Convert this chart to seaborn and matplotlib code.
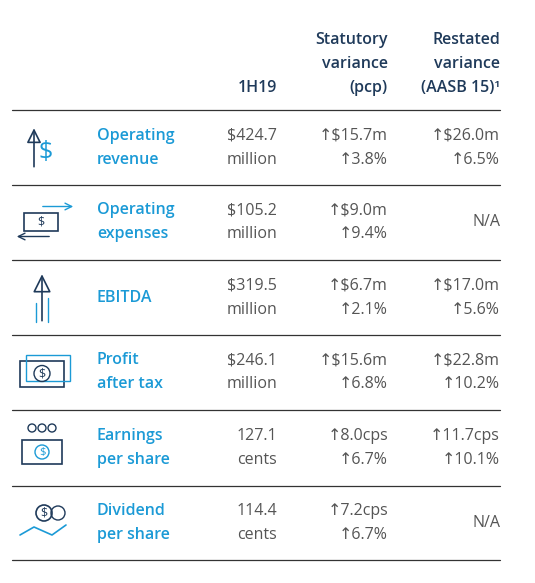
import matplotlib
matplotlib.use("Agg")
import matplotlib.pyplot as plt
import seaborn as sns
from matplotlib.patches import Rectangle, Circle

sns.set_theme(style="white")
plt.rcParams['font.family'] = ['Open Sans', 'DejaVu Sans']

labels = [("Operating", "revenue"), ("Operating", "expenses"), ("EBITDA", None),
          ("Profit", "after tax"), ("Earnings", "per share"), ("Dividend", "per share")]
values = [("$424.7", "million"), ("$105.2", "million"), ("$319.5", "million"),
          ("$246.1", "million"), ("127.1", "cents"), ("114.4", "cents")]
statutory = [("↑$15.7m", "↑3.8%"), ("↑$9.0m", "↑9.4%"), ("↑$6.7m", "↑2.1%"),
             ("↑$15.6m", "↑6.8%"), ("↑8.0cps", "↑6.7%"), ("↑7.2cps", "↑6.7%")]
restated = [("↑$26.0m", "↑6.5%"), ("N/A", None), ("↑$17.0m", "↑5.6%"),
            ("↑$22.8m", "↑10.2%"), ("↑11.7cps", "↑10.1%"), ("N/A", None)]

BLUE = "#1b9ad6"
DARK = "#1f3a5a"
GREY = "#555555"

fig = plt.figure(figsize=(5.35, 5.83), dpi=100)
ax = fig.add_axes([0, 0, 1, 1])
ax.set_xlim(0, 535)
ax.set_ylim(583, 0)
ax.axis("off")

fs = 11.5
W = "semibold"
ax.text(277, 88, "1H19", ha="right", va="center", fontsize=fs, color=DARK, weight=W)
for i, t in enumerate(["Statutory", "variance", "(pcp)"]):
    ax.text(388, 40 + 24 * i, t, ha="right", va="center", fontsize=fs, color=DARK, weight=W)
for i, t in enumerate(["Restated", "variance", "(AASB 15)¹"]):
    ax.text(500, 40 + 24 * i, t, ha="right", va="center", fontsize=fs, color=DARK, weight=W)

seps = [110, 185, 260, 335, 410, 486, 560]
for y in seps:
    ax.plot([12, 500], [y, y], color="#333333", lw=0.9)

for i in range(6):
    yc = (seps[i] + seps[i + 1]) / 2
    a, b = labels[i]
    if b is None:
        ax.text(97, yc, a, ha="left", va="center", fontsize=fs, color=BLUE, weight=W)
    else:
        ax.text(97, yc - 12, a, ha="left", va="center", fontsize=fs, color=BLUE, weight=W)
        ax.text(97, yc + 12, b, ha="left", va="center", fontsize=fs, color=BLUE, weight=W)
    ax.text(277, yc - 12, values[i][0], ha="right", va="center", fontsize=fs, color=GREY)
    ax.text(277, yc + 12, values[i][1], ha="right", va="center", fontsize=fs, color=GREY)
    ax.text(388, yc - 12, statutory[i][0], ha="right", va="center", fontsize=fs, color=GREY)
    ax.text(388, yc + 12, statutory[i][1], ha="right", va="center", fontsize=fs, color=GREY)
    r = restated[i]
    if r[1] is None:
        ax.text(500, yc, r[0], ha="right", va="center", fontsize=fs, color=GREY)
    else:
        ax.text(500, yc - 12, r[0], ha="right", va="center", fontsize=fs, color=GREY)
        ax.text(500, yc + 12, r[1], ha="right", va="center", fontsize=fs, color=GREY)

def icon(i):
    yc = (seps[i] + seps[i + 1]) / 2
    x = 42
    if i == 0:
        ax.annotate("", xy=(x - 8, yc - 22), xytext=(x - 8, yc + 22),
                    arrowprops=dict(arrowstyle="-|>", color=DARK, lw=1.2, fill=False, mutation_scale=22))
        ax.text(x + 4, yc + 5, "$", fontsize=18, color=BLUE, ha="center", va="center")
    elif i == 1:
        ax.add_patch(Rectangle((x - 18, yc - 10), 34, 18, fill=False, ec=DARK, lw=1.2))
        ax.text(x - 1, yc - 1, "$", fontsize=9, color=DARK, ha="center", va="center")
        ax.annotate("", xy=(x + 34, yc - 16), xytext=(x - 2, yc - 16),
                    arrowprops=dict(arrowstyle="->", color=BLUE, lw=1))
        ax.annotate("", xy=(x - 28, yc + 14), xytext=(x + 10, yc + 14),
                    arrowprops=dict(arrowstyle="->", color=DARK, lw=1))
    elif i == 2:
        ax.annotate("", xy=(x, yc - 26), xytext=(x, yc + 26),
                    arrowprops=dict(arrowstyle="-|>", color=DARK, lw=1.2, fill=False, mutation_scale=28))
        ax.plot([x - 6, x - 6], [yc + 5, yc + 24], color=BLUE, lw=1)
        ax.plot([x + 6, x + 6], [yc, yc + 24], color=BLUE, lw=1)
    elif i == 3:
        ax.add_patch(Rectangle((x - 22, yc - 12), 44, 26, fill=False, ec=DARK, lw=1.2))
        ax.add_patch(Rectangle((x - 16, yc - 18), 44, 26, fill=False, ec=BLUE, lw=1))
        ax.add_patch(Circle((x, yc + 1), 8, fill=False, ec=DARK, lw=1))
        ax.text(x, yc + 1, "$", fontsize=9, color=DARK, ha="center", va="center")
    elif i == 4:
        for dx in (-10, 0, 10):
            ax.add_patch(Circle((x + dx, yc - 20), 4, fill=False, ec=DARK, lw=1))
        ax.add_patch(Rectangle((x - 20, yc - 8), 40, 24, fill=False, ec=DARK, lw=1.2))
        ax.add_patch(Circle((x, yc + 4), 7, fill=False, ec=BLUE, lw=1))
        ax.text(x, yc + 4, "$", fontsize=8, color=BLUE, ha="center", va="center")
    elif i == 5:
        ax.add_patch(Circle((x + 2, yc - 10), 8, fill=False, ec=DARK, lw=1.2))
        ax.text(x + 2, yc - 10, "$", fontsize=9, color=DARK, ha="center", va="center")
        ax.add_patch(Circle((x + 16, yc - 10), 7, fill=False, ec=DARK, lw=1))
        ax.plot([x - 22, x - 8, x + 10, x + 24], [yc + 12, yc + 4, yc + 12, yc + 2], color=BLUE, lw=1.2)

for i in range(6):
    icon(i)

fig.savefig("out.png", dpi=100)
